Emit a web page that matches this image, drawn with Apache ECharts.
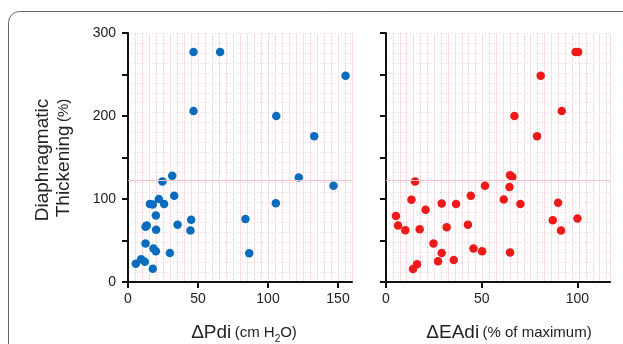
<!DOCTYPE html>
<html>
<head>
<meta charset="utf-8">
<script src="https://cdn.jsdelivr.net/npm/echarts@6/dist/echarts.min.js"></script>
<style>
  html, body { margin: 0; padding: 0; background: #fff; }
  #chart { width: 623px; height: 344px; }
</style>
</head>
<body>
<div id="chart"></div>
<script>
// ΔPdi (cm H2O) vs diaphragmatic thickening (%)
const pdiValues = [31.6, 24.6, 33, 22, 15.6, 17.7, 25.8, 19.9, 12.5, 13.4, 20.1, 35.4, 45.1, 44.6, 12.5, 18.2, 19.9, 29.9, 5.6, 9.4, 12, 17.7, 46.8, 65.8, 46.8, 155.4, 105.9, 133, 122, 146.8, 105.6, 83.9, 86.6];
const pdiThickening = [128, 121, 104, 100, 94, 93.5, 94, 80, 66.5, 68, 63, 69, 75, 62, 46.5, 40.5, 37, 35, 22, 27.5, 24.5, 16, 277, 277, 206, 248.5, 200, 175.5, 126, 116, 95, 76, 34.5];

// ΔEAdi (% of maximum) vs diaphragmatic thickening (%)
const eadiValues = [15.2, 13.3, 29.1, 36.6, 44.3, 51.7, 20.7, 5.2, 6.3, 10.1, 17.6, 31.7, 42.8, 24.8, 29.1, 27.2, 35.4, 45.7, 50.2, 16.2, 14.1, 64.8, 66, 64.5, 61.5, 70.2, 89.9, 87.1, 100, 91.4, 64.8, 99, 100.4, 80.8, 91.8, 67.1, 78.9];
const eadiThickening = [121, 99, 94.5, 94, 104, 116, 87, 79.5, 68, 62.5, 63.5, 66, 69, 46.5, 35, 25, 26.5, 40.5, 37, 21.5, 15.7, 128.5, 126.5, 114.5, 99.5, 94, 95.5, 74.5, 76.5, 62, 35.5, 277, 277, 248.5, 206, 200, 175.5];

// axis ticks and labels
const yTicks = [0, 50, 100, 150, 200, 250, 300];
const yTickLabels = [0, 100, 200, 300];
const pdiTicks = [0, 50, 100, 150];
const eadiTicks = [0, 50, 100];

const chart = echarts.init(document.getElementById('chart'));

const axisColor = '#111';
const font = 'Liberation Sans';
const paperV = { color: '#f8dde2', width: 1 };
const paperH = { color: '#f1cdd4', width: 1, type: [1, 2] };

const grids = [
  { left: 128, top: 33, width: 224, height: 249 },
  { left: 386, top: 33, width: 224, height: 249 }
];

// paper grids (only the pink graph-paper lines) + data grids
const paperX = (gi, max, step) => ({
  gridIndex: gi, type: 'value', min: 0, max: max, interval: step,
  axisLine: { show: false }, axisTick: { show: false }, axisLabel: { show: false },
  splitLine: { show: true, lineStyle: paperV }
});
const paperY = (gi) => ({
  gridIndex: gi, type: 'value', min: 0, max: 300, interval: 12,
  axisLine: { show: false }, axisTick: { show: false }, axisLabel: { show: false },
  splitLine: { show: true, lineStyle: paperH }
});
const dataX = (gi, max, ticks) => ({
  gridIndex: gi, type: 'value', min: 0, max: max, interval: 50,
  axisLine: { show: true, onZero: false, lineStyle: { color: axisColor, width: 2 } },
  axisTick: { show: true, customValues: ticks, length: 6, lineStyle: { color: axisColor, width: 2 } },
  axisLabel: { customValues: ticks, fontSize: 14, color: '#222', fontFamily: font, margin: 10 },
  splitLine: { show: false }
});
const dataY = (gi, labels) => ({
  gridIndex: gi, type: 'value', min: 0, max: 300, interval: 50,
  axisLine: { show: true, onZero: false, lineStyle: { color: axisColor, width: 2 } },
  axisTick: { show: true, customValues: yTicks, length: 6, lineStyle: { color: axisColor, width: 2 } },
  axisLabel: { show: labels, customValues: yTickLabels, fontSize: 14, color: '#222', fontFamily: font, margin: 12 },
  splitLine: { show: false }
});

const refLine = {
  silent: true, symbol: 'none', label: { show: false },
  lineStyle: { color: '#f3c3cc', width: 1, type: 'solid' },
  data: [{ yAxis: 122 }]
};

chart.setOption({
  animation: false,
  backgroundColor: '#fff',
  grid: [grids[0], grids[1], grids[0], grids[1]],
  xAxis: [
    paperX(0, 160, 5), paperX(1, 117, 3.6),
    dataX(2, 160, pdiTicks), dataX(3, 117, eadiTicks)
  ],
  yAxis: [
    paperY(0), paperY(1),
    dataY(2, true), dataY(3, false)
  ],
  series: [
    {
      type: 'scatter', xAxisIndex: 2, yAxisIndex: 2, symbolSize: 8.5,
      itemStyle: { color: '#0b6cbd', opacity: 1 },
      data: pdiValues.map((v, i) => [v, pdiThickening[i]]),
      markLine: refLine
    },
    {
      type: 'scatter', xAxisIndex: 3, yAxisIndex: 3, symbolSize: 8.5,
      itemStyle: { color: '#ee1a1a', opacity: 1 },
      data: eadiValues.map((v, i) => [v, eadiThickening[i]]),
      markLine: refLine
    }
  ],
  graphic: [
    {
      type: 'rect', silent: true,
      shape: { x: 8.5, y: 11.5, width: 700, height: 400, r: 11 },
      style: { fill: 'none', stroke: '#666', lineWidth: 1 }
    },
    {
      type: 'text', x: 43, y: 160, rotation: Math.PI / 2,
      style: { text: 'Diaphragmatic', font: '19px "Liberation Sans"', fill: '#222', align: 'center', verticalAlign: 'middle' }
    },
    {
      type: 'text', x: 64, y: 158, rotation: Math.PI / 2,
      style: {
        text: '{a|Thickening} {b|(%)}', align: 'center', verticalAlign: 'middle',
        rich: {
          a: { fontSize: 19, fontFamily: font, fill: '#222', lineHeight: 22 },
          b: { fontSize: 15, fontFamily: font, fill: '#222', lineHeight: 22 }
        }
      }
    },
    {
      type: 'text', x: 244, y: 333,
      style: {
        text: '{a|ΔPdi} {b|(cm H}{s|2}{b|O)}', align: 'center', verticalAlign: 'middle',
        rich: {
          a: { fontSize: 19, fontFamily: font, fill: '#222', lineHeight: 22 },
          b: { fontSize: 15, fontFamily: font, fill: '#222', lineHeight: 22 },
          s: { fontSize: 10, fontFamily: font, fill: '#222', verticalAlign: 'bottom', lineHeight: 12 }
        }
      }
    },
    {
      type: 'text', x: 509, y: 333,
      style: {
        text: '{a|ΔEAdi} {b|(% of maximum)}', align: 'center', verticalAlign: 'middle',
        rich: {
          a: { fontSize: 19, fontFamily: font, fill: '#222', lineHeight: 22 },
          b: { fontSize: 15, fontFamily: font, fill: '#222', lineHeight: 22 }
        }
      }
    }
  ]
});
</script>
</body>
</html>
